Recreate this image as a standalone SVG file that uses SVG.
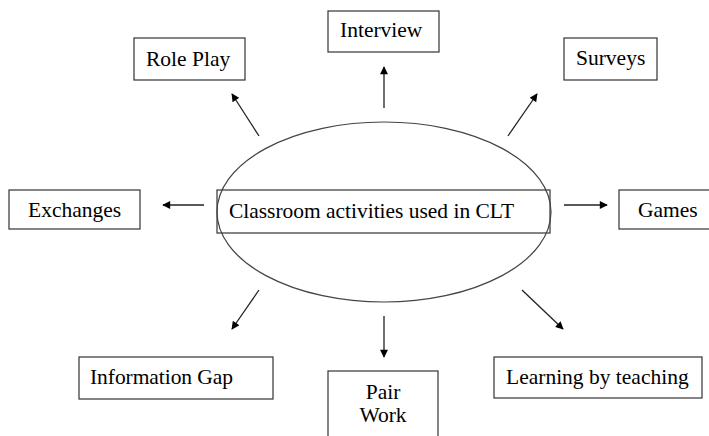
<svg xmlns="http://www.w3.org/2000/svg" width="709" height="436" viewBox="0 0 709 436">
  <style>
    .box { fill: #fff; stroke: #333; stroke-width: 1.2; }
    .lbl { font-family: 'Liberation Serif', 'Times New Roman', serif; font-size: 21.5px; fill: #000; }
    .conn line { stroke: #222; stroke-width: 1.3; marker-end: url(#head); }
  </style>
  <defs>
    <marker id="head" viewBox="0 0 10 10" refX="9" refY="5" markerWidth="9" markerHeight="8" markerUnits="userSpaceOnUse" orient="auto">
      <path d="M0,0 L10,5 L0,10 z" fill="#000"/>
    </marker>
  </defs>
  <rect width="709" height="436" fill="#fff"/>

  <!-- central topic: framed title over an ellipse -->
  <g id="center">
    <rect x="217" y="190" width="333" height="43" fill="none" stroke="#333" stroke-width="1.2"/>
    <ellipse cx="384" cy="212" rx="167" ry="90" fill="none" stroke="#444" stroke-width="1.2"/>
    <text class="lbl" x="229" y="218" textLength="285" lengthAdjust="spacingAndGlyphs">Classroom activities used in CLT</text>
  </g>

  <g id="role-play">
    <rect class="box" x="134" y="38" width="111" height="42"/>
    <text class="lbl" x="146" y="66">Role Play</text>
  </g>
  <g id="interview">
    <rect class="box" x="328" y="11" width="111" height="41"/>
    <text class="lbl" x="340" y="37">Interview</text>
  </g>
  <g id="surveys">
    <rect class="box" x="564" y="38" width="93" height="42"/>
    <text class="lbl" x="576" y="65">Surveys</text>
  </g>
  <g id="exchanges">
    <rect class="box" x="9" y="190" width="131" height="39"/>
    <text class="lbl" x="28" y="217">Exchanges</text>
  </g>
  <g id="games">
    <rect class="box" x="619" y="190" width="100" height="39"/>
    <text class="lbl" x="638" y="217">Games</text>
  </g>
  <g id="information-gap">
    <rect class="box" x="79" y="357" width="194" height="42"/>
    <text class="lbl" x="90" y="384" textLength="143" lengthAdjust="spacing">Information Gap</text>
  </g>
  <g id="pair-work">
    <rect class="box" x="328" y="371" width="110" height="80"/>
    <text class="lbl" x="383" y="399" text-anchor="middle">Pair</text>
    <text class="lbl" x="383" y="422" text-anchor="middle">Work</text>
  </g>
  <g id="learning-by-teaching">
    <rect class="box" x="494" y="357" width="208" height="41"/>
    <text class="lbl" x="506" y="384">Learning by teaching</text>
  </g>

  <g class="conn" id="connectors">
    <line x1="259" y1="136" x2="232" y2="94"/>
    <line x1="384" y1="108" x2="384" y2="67"/>
    <line x1="508" y1="136" x2="537" y2="94"/>
    <line x1="204" y1="205" x2="163" y2="205"/>
    <line x1="564" y1="205" x2="607" y2="205"/>
    <line x1="259" y1="290" x2="232" y2="329"/>
    <line x1="384" y1="316" x2="384" y2="357"/>
    <line x1="522" y1="290" x2="563" y2="329"/>
  </g>
</svg>
